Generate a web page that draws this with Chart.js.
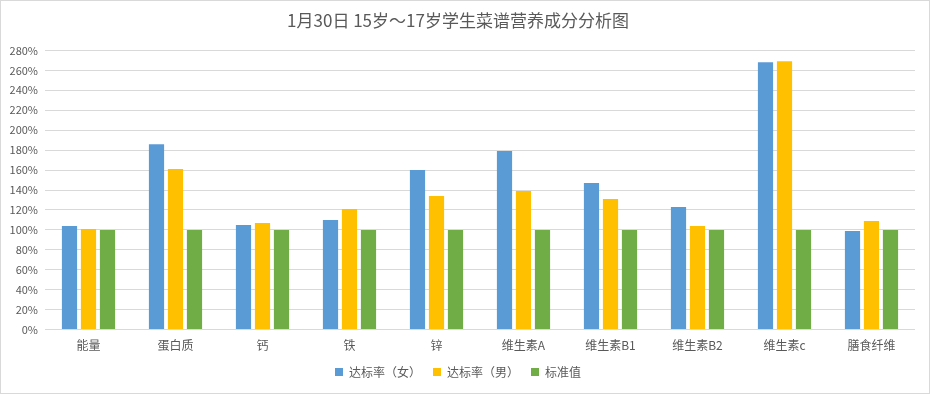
<!DOCTYPE html>
<html>
<head>
<meta charset="utf-8">
<script src="https://cdn.jsdelivr.net/npm/chart.js@4/dist/chart.umd.min.js"></script>
<style>
    html, body { margin:0; padding:0; background:#ffffff; }
    #wrap { position:relative; width:928px; height:392px; border:1px solid #d9d9d9; }
</style>
</head>
<body>
<div id="wrap"><canvas id="nutritionChart" width="928" height="392"></canvas></div>
<script>

//======================================================
// DATA
//======================================================

const categories = ["能量", "蛋白质", "钙", "铁", "锌", "维生素A", "维生素B1", "维生素B2", "维生素c", "膳食纤维"];

const femaleRate = [104, 186, 105, 110, 160, 179, 147, 123, 268, 99];
const maleRate   = [101, 161, 107, 121, 134, 139, 131, 104, 269, 109];
const standard   = [100, 100, 100, 100, 100, 100, 100, 100, 100, 100];

const seriesNames = ["达标率（女）", "达标率（男）", "标准值"];

const yMax = 280;
const yStep = 20;

const chartTitle = "1月30日 15岁～17岁学生菜谱营养成分分析图";

//======================================================
// BUILD CHART
//======================================================

const FONT = "'Noto Sans CJK SC', 'Noto Sans', sans-serif";

const ctx = document.getElementById("nutritionChart").getContext("2d");

new Chart(ctx, {

    type: "bar",

    data: {
        labels: categories,
        datasets: [
            { label: seriesNames[0], data: femaleRate, backgroundColor: "#5b9bd5" },
            { label: seriesNames[1], data: maleRate,   backgroundColor: "#ffc000" },
            { label: seriesNames[2], data: standard,   backgroundColor: "#70ad47" }
        ]
    },

    options: {
        responsive: false,
        animation: false,
        categoryPercentage: 0.655,
        barPercentage: 0.8,
        layout: { padding: { left: 0, right: 14, top: 0, bottom: 5 } },
        plugins: {
            title: {
                display: true,
                text: chartTitle,
                color: "#595959",
                font: { family: FONT, size: 17, weight: "normal" },
                padding: { top: 9, bottom: 20 }
            },
            legend: {
                position: "bottom",
                labels: {
                    color: "#595959",
                    font: { family: FONT, size: 12 },
                    boxWidth: 8,
                    boxHeight: 8,
                    padding: 12
                }
            },
            tooltip: { enabled: false }
        },
        scales: {
            x: {
                grid: { display: false },
                border: { display: false },
                ticks: {
                    color: "#595959",
                    font: { family: FONT, size: 12 },
                    maxRotation: 0,
                    padding: 1
                }
            },
            y: {
                min: 0,
                max: yMax,
                afterFit: function(scale){ scale.width = 44; },
                grid: { color: "#d9d9d9", lineWidth: 1, drawTicks: false },
                border: { display: false },
                ticks: {
                    stepSize: yStep,
                    color: "#595959",
                    font: { family: FONT, size: 11 },
                    padding: 7,
                    callback: function(v){ return v + "%"; }
                }
            }
        }
    }

});

</script>
</body>
</html>
